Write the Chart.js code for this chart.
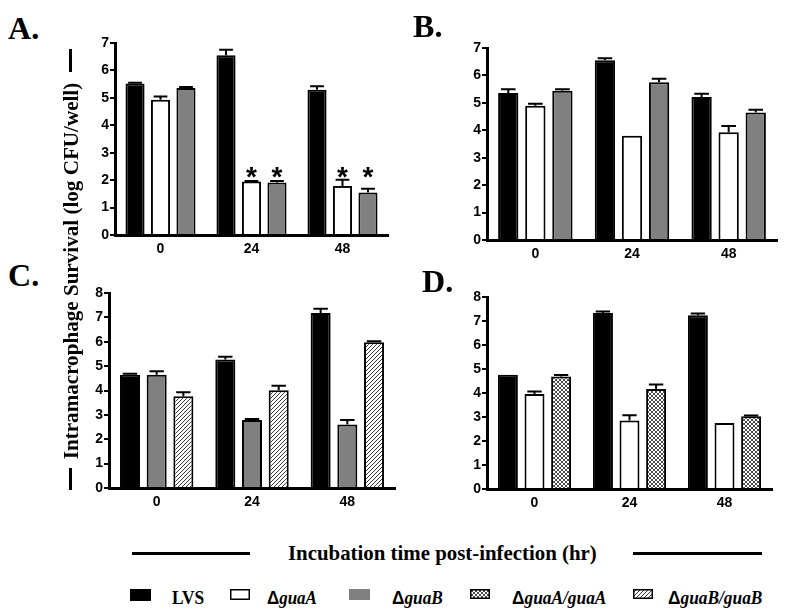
<!DOCTYPE html>
<html>
<head>
<meta charset="utf-8">
<script src="https://cdn.jsdelivr.net/npm/chart.js@4/dist/chart.umd.min.js"></script>
<style>
  html, body { margin:0; padding:0; background:#fff; }
  body { width:800px; height:614px; position:relative; overflow:hidden; }
  canvas.chart { position:absolute; }
  .t { position:absolute; white-space:nowrap; color:#000; }
  .serif { font-family:'Liberation Serif','Times New Roman',serif; font-weight:bold; }
  .d { font-family:'Liberation Sans',Arial,sans-serif; font-weight:bold; font-style:normal; }
  .it { font-style:italic; }
  .bar { position:absolute; background:#000; }
</style>
</head>
<body>
<canvas id="cA" class="chart"></canvas>
<canvas id="cB" class="chart"></canvas>
<canvas id="cC" class="chart"></canvas>
<canvas id="cD" class="chart"></canvas>

<script>
// ---------------- DATA ----------------
const categories = ['0', '24', '48'];

// Panel A
const A_LVS      = [5.52, 6.55, 5.30];
const A_LVS_err  = [0.03, 0.20, 0.12];
const A_guaA     = [4.93, 1.95, 1.79];
const A_guaA_err = [0.12, 0.02, 0.22];
const A_guaB     = [5.36, 1.91, 1.55];
const A_guaB_err = [0.04, 0.06, 0.14];
const A_guaA_sig = [false, true, true];
const A_guaB_sig = [false, true, true];

// Panel B
const B_LVS      = [5.36, 6.55, 5.21];
const B_LVS_err  = [0.14, 0.08, 0.12];
const B_guaA     = [4.89, 3.80, 3.93];
const B_guaA_err = [0.08, 0.00, 0.23];
const B_guaB     = [5.44, 5.75, 4.65];
const B_guaB_err = [0.06, 0.13, 0.10];

// Panel C
const C_LVS          = [4.65, 5.27, 7.18];
const C_LVS_err      = [0.04, 0.11, 0.17];
const C_guaB         = [4.65, 2.79, 2.61];
const C_guaB_err     = [0.14, 0.04, 0.18];
const C_guaBguaB     = [3.76, 4.01, 5.98];
const C_guaBguaB_err = [0.17, 0.19, 0.04];

// Panel D
const D_LVS          = [4.76, 7.33, 7.24];
const D_LVS_err      = [0.00, 0.07, 0.07];
const D_guaA         = [3.96, 2.85, 2.75];
const D_guaA_err     = [0.10, 0.22, 0.00];
const D_guaAguaA     = [4.69, 4.17, 3.03];
const D_guaAguaA_err = [0.06, 0.18, 0.03];

const yTicksAB = [0, 1, 2, 3, 4, 5, 6, 7];
const yTicksCD = [0, 1, 2, 3, 4, 5, 6, 7, 8];

// ---------------- PATTERNS ----------------
function hatchPattern() {
  const c = document.createElement('canvas'); c.width = 4; c.height = 4;
  const g = c.getContext('2d');
  g.fillStyle = '#ffffff'; g.fillRect(0, 0, 4, 4);
  g.strokeStyle = '#3a3a3a'; g.lineWidth = 1;
  g.beginPath();
  g.moveTo(-1, 5); g.lineTo(5, -1);
  g.moveTo(-1, 1); g.lineTo(1, -1);
  g.moveTo(3, 5); g.lineTo(5, 3);
  g.stroke();
  return g.createPattern(c, 'repeat');
}
function crossPattern() {
  const c = document.createElement('canvas'); c.width = 4; c.height = 4;
  const g = c.getContext('2d');
  g.fillStyle = '#ffffff'; g.fillRect(0, 0, 4, 4);
  g.strokeStyle = '#4a4a4a'; g.lineWidth = 1;
  g.beginPath();
  g.moveTo(0, 0); g.lineTo(4, 4);
  g.moveTo(4, 0); g.lineTo(0, 4);
  g.stroke();
  return g.createPattern(c, 'repeat');
}
const HATCH = hatchPattern();
const CROSS = crossPattern();

const STYLE = {
  LVS:      { backgroundColor: '#000000' },
  guaA:     { backgroundColor: '#ffffff' },
  guaB:     { backgroundColor: '#808080' },
  guaAguaA: { backgroundColor: CROSS },
  guaBguaB: { backgroundColor: HATCH }
};

// ---------------- ERROR BAR + STAR PLUGIN ----------------
const errorBars = {
  id: 'errorBars',
  afterDatasetsDraw(chart) {
    const ctx = chart.ctx, y = chart.scales.y;
    const starBars = [];
    chart.data.datasets.forEach((ds, i) => {
      const meta = chart.getDatasetMeta(i);
      meta.data.forEach((bar, j) => {
        const e = ds.errors ? ds.errors[j] : 0;
        const top = y.getPixelForValue(ds.data[j] + (e || 0));
        if (e > 0) {
          ctx.save();
          ctx.strokeStyle = '#000'; ctx.lineWidth = 2;
          ctx.beginPath();
          ctx.moveTo(bar.x, bar.y); ctx.lineTo(bar.x, top);
          const hw = bar.width * 0.36;
          ctx.moveTo(bar.x - hw, top); ctx.lineTo(bar.x + hw, top);
          ctx.stroke();
          ctx.restore();
        }
        if (ds.sig && ds.sig[j]) starBars.push({ x: bar.x, top });
      });
    });
    if (starBars.length) {
      const yStar = Math.min(...starBars.map(s => s.top)) - 9;
      ctx.save();
      ctx.fillStyle = '#000';
      ctx.font = 'bold 28px "Liberation Sans", Arial, sans-serif';
      ctx.textAlign = 'center'; ctx.textBaseline = 'alphabetic';
      starBars.forEach(s => ctx.fillText('*', s.x, yStar + 15));
      ctx.restore();
    }
  }
};

// ---------------- CHART FACTORY ----------------
const TICK_FONT = { family: '"Liberation Sans", Arial, sans-serif', size: 14, weight: 'bold' };

function makeChart(id, box, area, yMax, yTicks, datasets) {
  const cv = document.getElementById(id);
  cv.width = box.w; cv.height = box.h;
  cv.style.left = box.x + 'px'; cv.style.top = box.y + 'px';
  cv.style.width = box.w + 'px'; cv.style.height = box.h + 'px';
  const yW = area.l - box.x;
  const xH = (box.y + box.h) - area.b;
  new Chart(cv, {
    type: 'bar',
    data: { labels: categories, datasets: datasets.map(d => Object.assign({
      label: d.label, data: d.data, errors: d.errors, sig: d.sig,
      borderColor: '#000', borderWidth: 2,
      categoryPercentage: 0.84, barPercentage: 0.75
    }, STYLE[d.key])) },
    options: {
      responsive: false, animation: false, devicePixelRatio: 1,
      layout: { padding: { left: 0, top: area.t - box.y, right: (box.x + box.w) - area.r, bottom: 0 } },
      plugins: { legend: { display: false }, tooltip: { enabled: false }, title: { display: false } },
      scales: {
        x: {
          grid: { display: true, drawOnChartArea: false, drawTicks: false },
          border: { display: true, color: '#000', width: 3 },
          ticks: { color: '#000', font: TICK_FONT, padding: 6 },
          afterFit(s) { s.height = xH; }
        },
        y: {
          min: 0, max: yMax,
          afterBuildTicks(s) { s.ticks = yTicks.map(v => ({ value: v })); },
          grid: { display: true, drawOnChartArea: false, drawTicks: true, tickLength: 5, color: '#000', lineWidth: 2 },
          border: { display: true, color: '#000', width: 3 },
          ticks: { color: '#000', font: TICK_FONT, padding: 1 },
          afterFit(s) { s.width = yW; }
        }
      }
    },
    plugins: [errorBars]
  });
}

makeChart('cA', { x: 60, y: 20, w: 340, h: 245 }, { l: 115, r: 388, t: 43, b: 235 }, 7, yTicksAB, [
  { key: 'LVS',  label: 'LVS',   data: A_LVS,  errors: A_LVS_err },
  { key: 'guaA', label: 'ΔguaA', data: A_guaA, errors: A_guaA_err, sig: A_guaA_sig },
  { key: 'guaB', label: 'ΔguaB', data: A_guaB, errors: A_guaB_err, sig: A_guaB_sig }
]);
makeChart('cB', { x: 430, y: 20, w: 360, h: 250 }, { l: 487, r: 777, t: 48, b: 240 }, 7, yTicksAB, [
  { key: 'LVS',  label: 'LVS',   data: B_LVS,  errors: B_LVS_err },
  { key: 'guaA', label: 'ΔguaA', data: B_guaA, errors: B_guaA_err },
  { key: 'guaB', label: 'ΔguaB', data: B_guaB, errors: B_guaB_err }
]);
makeChart('cC', { x: 55, y: 270, w: 350, h: 250 }, { l: 109, r: 395, t: 293, b: 488 }, 8, yTicksCD, [
  { key: 'LVS',      label: 'LVS',        data: C_LVS,      errors: C_LVS_err },
  { key: 'guaB',     label: 'ΔguaB',      data: C_guaB,     errors: C_guaB_err },
  { key: 'guaBguaB', label: 'ΔguaB/guaB', data: C_guaBguaB, errors: C_guaBguaB_err }
]);
makeChart('cD', { x: 430, y: 270, w: 360, h: 250 }, { l: 487, r: 772, t: 297, b: 489 }, 8, yTicksCD, [
  { key: 'LVS',      label: 'LVS',        data: D_LVS,      errors: D_LVS_err },
  { key: 'guaA',     label: 'ΔguaA',      data: D_guaA,     errors: D_guaA_err },
  { key: 'guaAguaA', label: 'ΔguaA/guaA', data: D_guaAguaA, errors: D_guaAguaA_err }
]);

// ---------------- TEXT / DECORATION ----------------
function addText(html, size, opt) {
  const d = document.createElement('div');
  d.className = 't serif';
  d.style.fontSize = size + 'px';
  d.style.lineHeight = size + 'px';
  d.innerHTML = html;
  document.body.appendChild(d);
  const mw = d.offsetWidth, mh = d.offsetHeight;
  const k = opt.w / mw;
  if (opt.vertical) {
    d.style.left = (opt.cx - mw / 2) + 'px';
    d.style.top = (opt.cy - mh / 2) + 'px';
    d.style.transformOrigin = '50% 50%';
    d.style.transform = 'rotate(-90deg) scaleX(' + k + ')';
  } else {
    d.style.left = opt.x + 'px';
    d.style.top = (opt.cy - mh / 2) + 'px';
    d.style.transformOrigin = '0 50%';
    d.style.transform = 'scaleX(' + k + ')';
  }
}
function addBar(x, y, w, h) {
  const b = document.createElement('div');
  b.className = 'bar';
  Object.assign(b.style, { left: x + 'px', top: y + 'px', width: w + 'px', height: h + 'px' });
  document.body.appendChild(b);
}

// panel letters
addText('A.', 31, { x: 8,   cy: 28,  w: 31 });
addText('B.', 31, { x: 413, cy: 26,  w: 29 });
addText('C.', 31, { x: 8,   cy: 275, w: 31 });
addText('D.', 31, { x: 422, cy: 281, w: 31 });

// vertical y title with side rules
addText('Intramacrophage Survival (log CFU/well)', 22, { vertical: true, cx: 71, cy: 271, w: 377 });
addBar(69, 49, 3, 23);
addBar(69, 468, 3, 22);

// bottom x title with side rules
addText('Incubation time post-infection (hr)', 22, { x: 288, cy: 553, w: 309 });
addBar(132, 552, 118, 3);
addBar(633, 552, 129, 3);

// legend
function swatch(x, y, w, h, kind) {
  const c = document.createElement('canvas');
  c.width = w; c.height = h;
  c.style.position = 'absolute'; c.style.left = x + 'px'; c.style.top = y + 'px';
  const g = c.getContext('2d');
  if (kind === 'LVS') { g.fillStyle = '#000'; g.fillRect(0, 0, w, h); }
  else if (kind === 'guaB') { g.fillStyle = '#808080'; g.fillRect(0, 0, w, h); }
  else {
    g.fillStyle = kind === 'guaA' ? '#fff' : (kind === 'guaAguaA' ? CROSS : HATCH);
    g.fillRect(0, 0, w, h);
    g.strokeStyle = '#000'; g.lineWidth = 1.5;
    g.strokeRect(0.75, 0.75, w - 1.5, h - 1.5);
  }
  document.body.appendChild(c);
}
swatch(130, 589, 21, 12, 'LVS');
swatch(230, 589, 20, 11, 'guaA');
swatch(349, 589, 21, 11, 'guaB');
swatch(470, 589, 20, 10, 'guaAguaA');
swatch(633, 589, 20, 10, 'guaBguaB');

addText('LVS', 19, { x: 172, cy: 597, w: 32 });
addText('<span class="d">Δ</span><span class="it">guaA</span>', 19, { x: 267, cy: 597, w: 50 });
addText('<span class="d">Δ</span><span class="it">guaB</span>', 19, { x: 392, cy: 597, w: 51 });
addText('<span class="d">Δ</span><span class="it">guaA/guaA</span>', 19, { x: 512, cy: 597, w: 94 });
addText('<span class="d">Δ</span><span class="it">guaB/guaB</span>', 19, { x: 668, cy: 597, w: 94 });
</script>
</body>
</html>
